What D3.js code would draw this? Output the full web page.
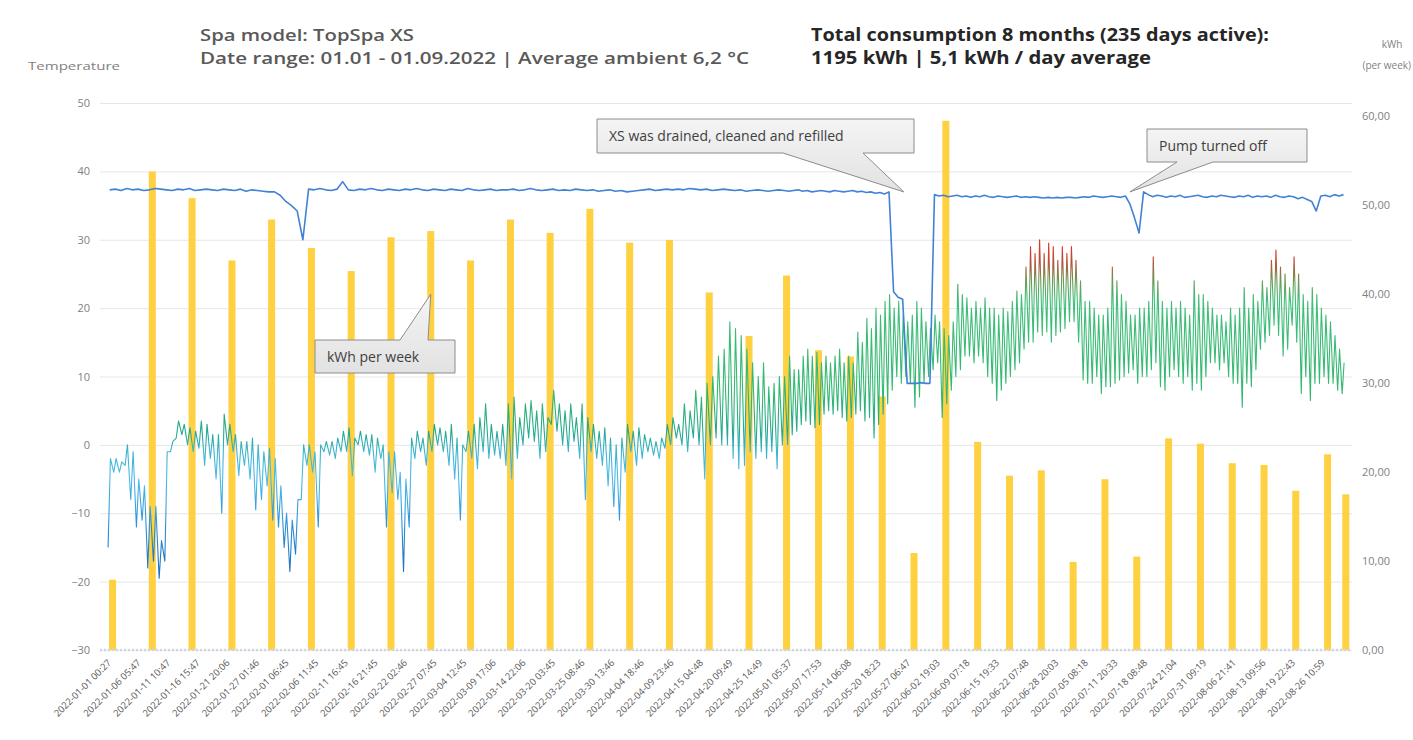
<!DOCTYPE html>
<html>
<head>
<meta charset="utf-8">
<script src="https://cdn.jsdelivr.net/npm/d3@7"></script>
<style>
  body { margin: 0; background: #fff; }
  svg text { font-family: "Open Sans", "Noto Sans", sans-serif; }
</style>
</head>
<body>
<svg id="chart" width="1413" height="740"></svg>
<script>
// ======== data
const xLabels = [
  "2022-01-01 00:27", "2022-01-06 05:47", "2022-01-11 10:47", "2022-01-16 15:47", "2022-01-21 20:06",
  "2022-01-27 01:46", "2022-02-01 06:45", "2022-02-06 11:45", "2022-02-11 16:45", "2022-02-16 21:45",
  "2022-02-22 02:46", "2022-02-27 07:45", "2022-03-04 12:45", "2022-03-09 17:06", "2022-03-14 22:06",
  "2022-03-20 03:45", "2022-03-25 08:46", "2022-03-30 13:46", "2022-04-04 18:46", "2022-04-09 23:46",
  "2022-04-15 04:48", "2022-04-20 09:49", "2022-04-25 14:49", "2022-05-01 05:37", "2022-05-07 17:53",
  "2022-05-14 06:08", "2022-05-20 18:23", "2022-05-27 06:47", "2022-06-02 19:03", "2022-06-09 07:18",
  "2022-06-15 19:33", "2022-06-22 07:48", "2022-06-28 20:03", "2022-07-05 08:18", "2022-07-11 20:33",
  "2022-07-18 08:48", "2022-07-24 21:04", "2022-07-31 09:19", "2022-08-06 21:41", "2022-08-13 09:56",
  "2022-08-19 22:43", "2022-08-26 10:59"
];

const tempTicks = [-30, -20, -10, 0, 10, 20, 30, 40, 50];
const kwhTicks = [0, 10, 20, 30, 40, 50, 60];

// weekly consumption (kWh per week)
const barWeeks = [
  "2022-01-02", "2022-01-09", "2022-01-16", "2022-01-23", "2022-01-30", "2022-02-06", "2022-02-13",
  "2022-02-20", "2022-02-27", "2022-03-06", "2022-03-13", "2022-03-20", "2022-03-27", "2022-04-03",
  "2022-04-10", "2022-04-17", "2022-04-24", "2022-05-01", "2022-05-08", "2022-05-15", "2022-05-22",
  "2022-05-29", "2022-06-05", "2022-06-12", "2022-06-19", "2022-06-26", "2022-07-03", "2022-07-10",
  "2022-07-17", "2022-07-24", "2022-07-31", "2022-08-07", "2022-08-14", "2022-08-21", "2022-08-28",
  "2022-09-01"
];
const barKwh = [
  7.9, 53.8, 50.8, 43.8, 48.4, 45.2, 42.6, 46.4, 47.1, 43.8, 48.4, 46.9, 49.6, 45.8, 46.1, 40.2,
  35.3, 42.1, 33.7, 33.0, 28.5, 10.9, 59.5, 23.4, 19.6, 20.2, 9.9, 19.2, 10.5, 23.8, 23.2, 21.0,
  20.8, 17.9, 22.0, 17.5
];

// ambient temperature, one high and one low per day from 2022-01-01
const ambientHigh = [
  -2, -2, -2.5, 0, -1, -5, -6, -9, -9, -14,
  -1, 0.5, 3.5, 3, 2.5, 2, 3.5, 3, 1.5, 1.5,
  4.5, 3, 1.5, 0.5, 0.5, 1, 0, -1, -0.5, -2,
  -6, -10, -11, -8, 0, 0, -1, 0, 0.5, 0.5,
  1, 2, 2.5, 1, 2, 1.5, 1.5, 1, 0, -1,
  -1, -4, -5, 1, 2, 1, 2, 3, 2.5, 2,
  3, 1, 0, 2, 3, 4, 6, 3, 2, 3,
  6, 7, 4, 6, 6.5, 5, 6, 4, 8, 6,
  5, 6, 4, 6, 4, 3, 2, 2.5, 1, 0,
  1, 3, 2, 2.5, 1.5, 1, 0.5, 1, 3, 4,
  3, 6, 5, 8, 7, 9, 10, 13, 14, 18,
  17, 16, 14, 12, 10, 12, 8.5, 9, 10, 10,
  13, 11, 11, 13, 14, 13, 13.5, 12, 13, 12,
  13, 14, 12, 13, 12, 16.5, 15, 18.5, 17, 20,
  19, 21, 22, 20, 21, 19, 18, 19, 21, 20,
  18, 17, 19, 18, 17, 16, 18, 23.5, 22, 21.5,
  20, 21, 20, 21.5, 20, 20, 19, 20, 19.5, 21,
  22.5, 22, 26, 29, 28, 30, 28, 29.5, 29, 27,
  29, 28, 29, 27, 24, 21, 21, 20, 19, 19,
  20, 26, 24, 22, 21, 19, 19, 20, 20, 21,
  27.5, 24, 21, 20, 21, 20, 21, 20, 19, 24,
  22, 22, 21, 20, 19, 19, 18, 20, 19, 20,
  23, 20, 22, 21, 24, 23, 27, 28.5, 26, 25,
  23, 27.5, 25, 22, 21, 23, 22, 20, 19, 18,
  16, 14, 12
];
const ambientLow = [
  -15, -4, -4, -3, -8, -12, -11, -18, -17, -19.5,
  -17, -1, 1, 1.5, 0, -1, -0.5, -3, -2, -5,
  -10, 0, -1, -4.5, -3, -5, -9.5, -8, -6, -11,
  -12, -15, -18.5, -16, -8, -3, -4, -12, -1, -1.5,
  -2, -1, -1, -4.5, 0, -1, -1.5, -4, -2, -12,
  -7, -8, -18.5, -12, -2, -1, -3, -1, 0, -1,
  -3, -5, -11, -1, -2, -3.5, -1, -2, -1.5, -2,
  -3, -5, -2, 0, 1, 0.5, -2, -1, 3, 2,
  0, -1, 0.5, -2, -8, -1, -2, -3, -6, -9,
  -11, -4, -1, -3, -2, -1, -1.5, -2, -0.5, 0,
  1, 0, -1, 1, 0, -5, 0, 1, 0, 0,
  -2, -3.5, -3, -1, -2, -1, -2, -1, -3.5, 0,
  0, 1.5, 2, 3, 3.5, 3, 2.5, 3, 4.5, 5,
  4.5, 5, 4, 3.5, 4, 4.5, 5, 3.5, 4, 1,
  3, 4.5, 6, 8, 10, 9, 10, 9, 5.5, 7,
  9, 10, 11, 12, 4, 6, 8, 10, 11, 13,
  13, 12, 13, 12, 10, 9, 6.5, 8, 9, 10,
  11, 12, 14, 15, 15, 16.5, 16, 16.5, 15, 16,
  16.5, 17, 18, 18, 15, 9.5, 9, 9, 10, 7.5,
  8.5, 8.5, 9, 9.5, 10, 10.5, 11, 9, 10, 10,
  11, 12, 8.5, 8, 10, 11, 10, 9, 10, 8,
  9, 8, 10, 12, 12, 11, 12, 10, 9, 9,
  5.5, 9, 8.5, 11, 14, 15, 16, 17.5, 16, 13,
  14, 17.5, 15, 7.5, 10, 6.5, 9, 9, 10, 9,
  9, 8, 7.5
];

// spa water temperature, one reading per day from 2022-01-01
const spaTemp = [
  37.3, 37.4, 37.2, 37.5, 37.3, 37.4, 37.2, 37.3, 37.5, 37.4,
  37.3, 37.2, 37.4, 37.3, 37.5, 37.2, 37.3, 37.4, 37.3, 37.2,
  37.4, 37.3, 37.2, 37.4, 37.1, 37.3, 37.2, 37.1, 37.0, 37.0,
  36.5, 35.6, 35.0, 34.2, 30.0, 37.4, 37.3, 37.5, 37.3, 37.2,
  37.4, 38.5, 37.3, 37.2, 37.4, 37.3, 37.5, 37.3, 37.2, 37.4,
  37.3, 37.2, 37.4, 37.3, 37.5, 37.3, 37.2, 37.4, 37.3, 37.2,
  37.4, 37.3, 37.2, 37.5, 37.3, 37.2, 37.3, 37.4, 37.2, 37.3,
  37.3, 37.4, 37.2, 37.3, 37.5, 37.3, 37.2, 37.3, 37.4, 37.2,
  37.3, 37.2, 37.4, 37.3, 37.2, 37.3, 37.1, 37.2, 37.3, 37.1,
  37.2, 37.0, 37.1, 37.2, 37.3, 37.4, 37.2, 37.3, 37.4, 37.3,
  37.4, 37.3, 37.5, 37.4, 37.3, 37.4, 37.2, 37.3, 37.4, 37.3,
  37.2, 37.3, 37.1, 37.2, 37.3, 37.2, 37.1, 37.2, 37.3, 37.2,
  37.1, 37.2, 37.3, 37.1, 37.2, 37.0, 37.1, 37.2, 37.1, 37.0,
  37.2, 37.1, 37.0, 37.1, 37.2, 37.0, 37.1, 36.9, 37.0, 36.8,
  36.9, 36.7, 37.0, 22.4, 21.6, 21.3, 9.0, 9.0, 9.0, 9.1,
  9.0, 9.0, 36.6, 36.4, 36.5, 36.3, 36.4, 36.5, 36.3, 36.4,
  36.2, 36.4, 36.3, 36.5, 36.3, 36.2, 36.4, 36.3, 36.2, 36.3,
  36.4, 36.2, 36.3, 36.2, 36.3, 36.2, 36.1, 36.2, 36.1, 36.2,
  36.1, 36.2, 36.2, 36.1, 36.2, 36.3, 36.2, 36.4, 36.3, 36.2,
  36.3, 36.4, 36.3, 36.2, 36.4, 35.2, 33.2, 31.0, 37.0, 36.6,
  36.3, 36.5, 36.4, 36.2, 36.4, 36.3, 36.5, 36.2, 36.3, 36.4,
  36.5, 36.3, 36.2, 36.4, 36.3, 36.5, 36.4, 36.3, 36.2, 36.4,
  36.3, 36.5, 36.2, 36.4, 36.3, 36.4, 36.2, 36.5, 36.3, 36.2,
  36.4, 36.3, 36.0, 36.2, 35.9, 35.6, 34.2, 36.4, 36.5, 36.3,
  36.6, 36.4, 36.6
];
// ======== data 끝

const svg = d3.select("#chart");
const plot = { left: 100, right: 1352, top: 103, bottom: 650 };

const parseMin = d3.timeParse("%Y-%m-%d %H:%M");
const parseDay = d3.timeParse("%Y-%m-%d");
const labelDates = xLabels.map(parseMin);
const startDay = parseDay("2022-01-01");

// category axis in the source: labels are evenly spaced, so the time scale is piecewise
const firstLabelX = 107;
const labelStep = 29.6;
const x = d3.scaleTime()
  .domain(labelDates)
  .range(labelDates.map((d, i) => firstLabelX + i * labelStep));
const yT = d3.scaleLinear().domain([-30, 50]).range([plot.bottom, plot.top]);
const yK = d3.scaleLinear().domain([0, 61.5]).range([plot.bottom, plot.top]);

// ======== gridlines + left axis
const leftAxis = svg.append("g")
  .attr("transform", `translate(${plot.left},0)`)
  .call(d3.axisLeft(yT).tickValues(tempTicks).tickSize(-(plot.right - plot.left)).tickPadding(10));
leftAxis.select(".domain").remove();
leftAxis.selectAll("line").attr("stroke", "#e6e6e6");
leftAxis.selectAll("text").attr("fill", "#7f7f7f").style("font-size", "11px");

// right axis
const rightAxis = svg.append("g")
  .attr("transform", `translate(${plot.right},0)`)
  .call(d3.axisRight(yK).tickValues(kwhTicks).tickSize(0).tickPadding(10)
    .tickFormat(d => d3.format(".2f")(d).replace(".", ",")));
rightAxis.select(".domain").remove();
rightAxis.selectAll("text").attr("fill", "#7f7f7f").style("font-size", "11px");

// ======== weekly kWh bars
svg.append("g")
  .selectAll("rect")
  .data(barKwh)
  .join("rect")
  .attr("x", (d, i) => x(parseDay(barWeeks[i])) - 3.5)
  .attr("width", 7)
  .attr("y", d => yK(d))
  .attr("height", d => yK(0) - yK(d))
  .attr("fill", "#ffd040");

// ======== ambient temperature (gradient line)
const defs = svg.append("defs");
const grad = defs.append("linearGradient")
  .attr("id", "ambientGrad")
  .attr("gradientUnits", "userSpaceOnUse")
  .attr("x1", 0).attr("x2", 0)
  .attr("y1", yT(-20)).attr("y2", yT(30));
const gradStops = [
  [-20, "#1a6bb6"], [-12, "#2b8fd6"], [-5, "#4dbbe9"], [-1, "#3fb4d0"],
  [2, "#22a88a"], [8, "#34b872"], [21, "#40be7a"], [24, "#6a9a55"], [26.5, "#b0573c"], [29, "#e0322c"]
];
grad.selectAll("stop")
  .data(gradStops)
  .join("stop")
  .attr("offset", d => (yT(d[0]) - yT(-20)) / (yT(30) - yT(-20)))
  .attr("stop-color", d => d[1]);

const ambientPoints = [];
ambientLow.forEach((lo, i) => {
  const day = d3.timeDay.offset(startDay, i);
  ambientPoints.push({ t: d3.timeHour.offset(day, 5), v: lo });
  ambientPoints.push({ t: d3.timeHour.offset(day, 15), v: ambientHigh[i] });
});

svg.append("path")
  .datum(ambientPoints)
  .attr("fill", "none")
  .attr("stroke", "url(#ambientGrad)")
  .attr("stroke-width", 1.1)
  .attr("stroke-linejoin", "round")
  .attr("d", d3.line().x(d => x(d.t)).y(d => yT(d.v)));

// ======== spa water temperature
const spaPoints = spaTemp.map((v, i) => ({ t: d3.timeHour.offset(d3.timeDay.offset(startDay, i), 12), v }));
svg.append("path")
  .datum(spaPoints)
  .attr("fill", "none")
  .attr("stroke", "#4282d4")
  .attr("stroke-width", 1.6)
  .attr("stroke-linejoin", "round")
  .attr("d", d3.line().x(d => x(d.t)).y(d => yT(d.v)));

// ======== bottom category axis
const bottom = svg.append("g").attr("transform", `translate(0,${plot.bottom})`);
bottom.append("line")
  .attr("x1", plot.left).attr("x2", plot.right)
  .attr("stroke", "#cfd6e3").attr("stroke-width", 2.5)
  .attr("stroke-dasharray", "2,2");
const xAxis = bottom.append("g")
  .call(d3.axisBottom(x).tickValues(labelDates).tickSize(0).tickFormat((d, i) => xLabels[i]));
xAxis.select(".domain").remove();
xAxis.selectAll("text")
  .attr("x", 0).attr("y", 0).attr("dy", "0.35em")
  .attr("transform", "translate(2,11) rotate(-45)")
  .attr("text-anchor", "end")
  .attr("fill", "#595959")
  .style("font-size", "9.5px");

// ======== callouts
const calloutGrad = defs.append("linearGradient")
  .attr("id", "calloutGrad").attr("x1", 0).attr("x2", 0).attr("y1", 0).attr("y2", 1);
calloutGrad.append("stop").attr("offset", 0).attr("stop-color", "#f4f4f4");
calloutGrad.append("stop").attr("offset", 1).attr("stop-color", "#e2e2e2");

function callout(box, tip, b1, b2, side, label) {
  const g = svg.append("g");
  let p;
  if (side === "bottom") {
    p = `M${box.l},${box.t}H${box.r}V${box.b}H${b2}L${tip[0]},${tip[1]}L${b1},${box.b}H${box.l}Z`;
  } else {
    p = `M${box.l},${box.t}H${b1}L${tip[0]},${tip[1]}L${b2},${box.t}H${box.r}V${box.b}H${box.l}Z`;
  }
  g.append("path").attr("d", p)
    .attr("fill", "url(#calloutGrad)").attr("stroke", "#8c8c8c").attr("stroke-width", 1);
  g.append("text")
    .attr("x", box.l + 12).attr("y", (box.t + box.b) / 2 + 5)
    .attr("fill", "#404040").style("font-size", "14px")
    .text(label);
}

const drainTip = [x(parseMin("2022-05-26 18:00")), yT(37)];
callout({ l: 597, r: 914, t: 119, b: 153 }, drainTip, 783, 863, "bottom", "XS was drained, cleaned and refilled");

const barTip = [x(parseDay(barWeeks[8])), yK(40)];
callout({ l: 315, r: 455, t: 340, b: 373 }, barTip, 400, 428, "top", "kWh per week");

const pumpTip = [x(parseMin("2022-07-15 12:00")), yT(37)];
callout({ l: 1147, r: 1307, t: 129, b: 162 }, pumpTip, 1177, 1213, "bottom", "Pump turned off");

// ======== titles (the source is a little stretched sideways, so widths are fitted)
function title(tx, ty, str, width, color, weight) {
  svg.append("text").attr("x", tx).attr("y", ty)
    .attr("fill", color).style("font-size", "17px").style("font-weight", weight)
    .attr("textLength", width).attr("lengthAdjust", "spacingAndGlyphs")
    .text(str);
}
title(200, 41, "Spa model: TopSpa XS", 214, "#595959", 600);
title(200, 64, "Date range: 01.01 - 01.09.2022 | Average ambient 6,2 °C", 549, "#595959", 600);
title(811, 41, "Total consumption 8 months (235 days active):", 458, "#262626", 700);
title(811, 64, "1195 kWh | 5,1 kWh / day average", 340, "#262626", 700);

svg.append("text").attr("x", 28).attr("y", 70)
  .attr("fill", "#7f7f7f").style("font-size", "11px")
  .attr("textLength", 92).attr("lengthAdjust", "spacingAndGlyphs")
  .text("Temperature");
svg.append("text").attr("x", 1392).attr("y", 48).attr("text-anchor", "middle")
  .attr("fill", "#7f7f7f").style("font-size", "10px")
  .text("kWh");
svg.append("text").attr("x", 1411).attr("y", 69).attr("text-anchor", "end")
  .attr("fill", "#7f7f7f").style("font-size", "10px")
  .text("(per week)");
</script>
</body>
</html>
